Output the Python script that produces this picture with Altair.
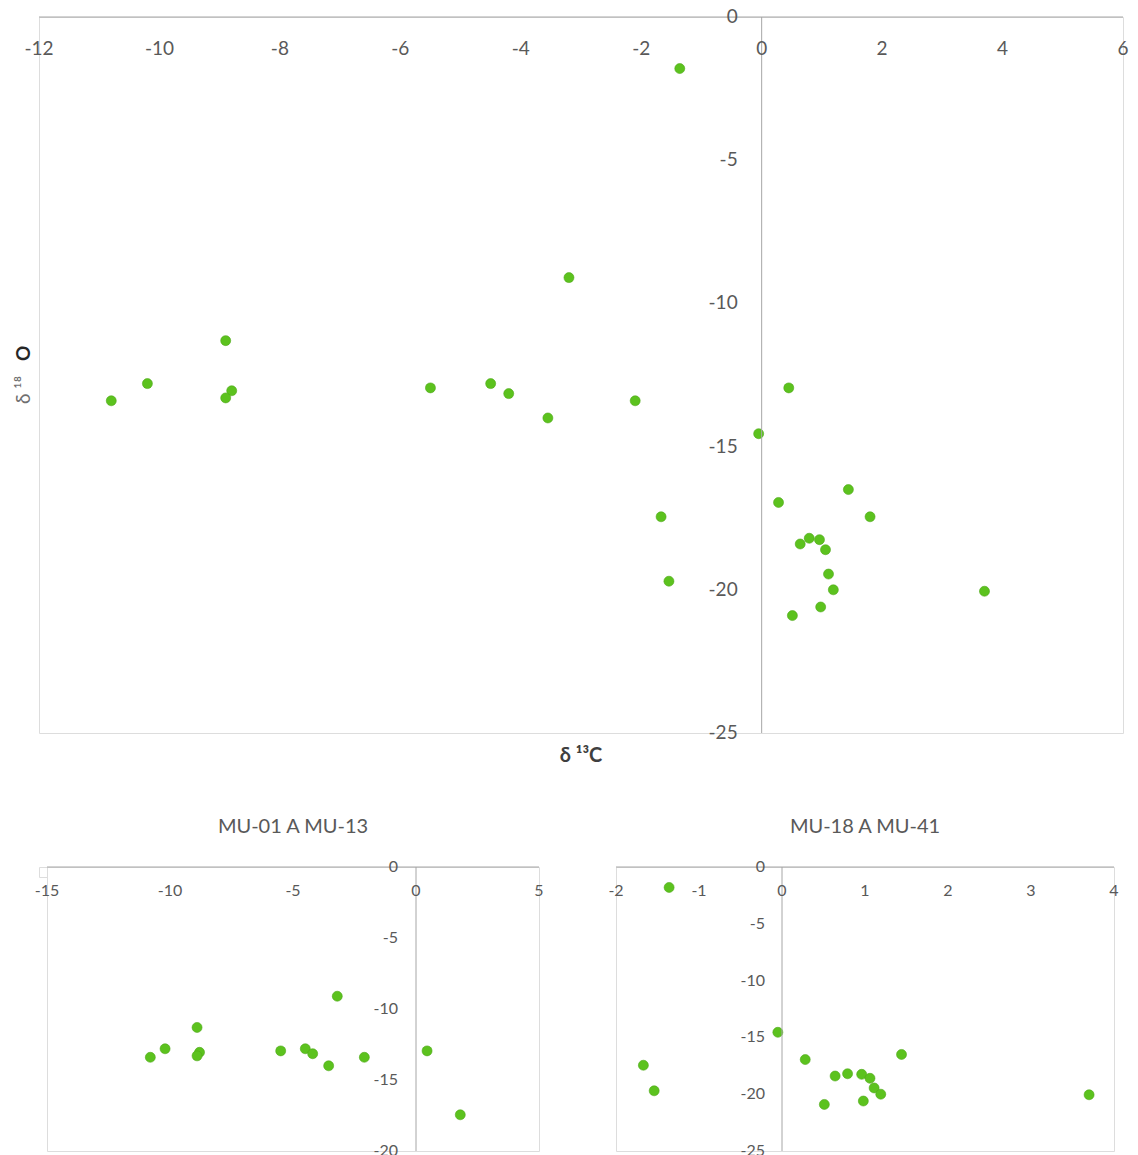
import altair as alt
import pandas as pd

# ---------------- data ----------------
G1_TITLE = "MU-01  A MU-13"
G1_C = [-10.8, -10.2, -8.9, -8.8, -8.9, -5.5, -4.5, -4.2, -3.55, -3.2, -2.1, 0.45, 1.8]
G1_O = [-13.4, -12.8, -11.3, -13.05, -13.3, -12.95, -12.8, -13.15, -14.0, -9.1, -13.4, -12.95, -17.45]

G2_TITLE = "MU-18  A MU-41"
G2_C = [-1.36, -0.05, -1.67, -1.54, 0.28, 1.44, 0.64, 0.79, 0.96, 1.06, 1.11, 1.19, 0.98, 0.51, 3.70]
G2_O = [-1.8, -14.55, -17.45, -19.7, -16.95, -16.5, -18.4, -18.2, -18.25, -18.6, -19.45, -20.0, -20.6, -20.9, -20.05]

MAIN_X_TICKS = [-12, -10, -8, -6, -4, -2, 0, 2, 4, 6]
MAIN_Y_TICKS = [0, -5, -10, -15, -20, -25]
L_X_TICKS = [-15, -10, -5, 0, 5]
L_Y_TICKS = [0, -5, -10, -15, -20]
R_X_TICKS = [-2, -1, 0, 1, 2, 3, 4]
R_Y_TICKS = [0, -5, -10, -15, -20, -25]

X_TITLE = "δ ¹³C"
Y_TITLE_A = "δ ¹⁸"
Y_TITLE_B = "O"

# ---------------- style ----------------
FONT = "Lato"
GREEN = "#5CC21E"
LABEL = "#595959"
GRID = "#D9D9D9"
AXIS = "#A6A6A6"


def grid_axis(values):
    return alt.Axis(values=values, labels=False, ticks=False, domain=False, grid=True,
                    gridColor=GRID, gridWidth=1, title=None)


def panel(c, o, xt, yt, w, h, fs, dx_y, dy_x, title=None, titles=False):
    xdom = [min(xt), max(xt)]
    ydom = [min(yt), max(yt)]
    xs = alt.Scale(domain=xdom, nice=False, zero=False)
    ys = alt.Scale(domain=ydom, nice=False, zero=False)

    pts_df = pd.DataFrame({"c": c, "o": o})
    points = alt.Chart(pts_df).mark_circle(size=100, color=GREEN, opacity=1,
                                           stroke="#4FA81A", strokeWidth=0.6).encode(
        x=alt.X("c:Q", scale=xs, axis=grid_axis(xt)),
        y=alt.Y("o:Q", scale=ys, axis=grid_axis(yt)),
    )

    xl_df = pd.DataFrame({"v": xt, "zero": [0] * len(xt), "t": [str(v) for v in xt]})
    xlabels = alt.Chart(xl_df).mark_text(font=FONT, fontSize=fs, color=LABEL,
                                         align="center", baseline="middle", dy=dy_x).encode(
        x=alt.X("v:Q", scale=xs, axis=None),
        y=alt.Y("zero:Q", scale=ys, axis=None),
        text="t:N",
    )

    yl_df = pd.DataFrame({"v": yt, "zero": [0] * len(yt), "t": [str(v) for v in yt]})
    ylabels = alt.Chart(yl_df).mark_text(font=FONT, fontSize=fs, color=LABEL,
                                         align="right", baseline="middle", dx=dx_y).encode(
        x=alt.X("zero:Q", scale=xs, axis=None),
        y=alt.Y("v:Q", scale=ys, axis=None),
        text="t:N",
    )

    vline_df = pd.DataFrame({"x": [0], "y1": [ydom[1]], "y2": [ydom[0]]})
    vline = alt.Chart(vline_df).mark_rule(color=AXIS, strokeWidth=1).encode(
        x=alt.X("x:Q", scale=xs, axis=None),
        y=alt.Y("y1:Q", scale=ys, axis=None),
        y2="y2:Q",
    )
    hline_df = pd.DataFrame({"y": [0], "x1": [xdom[0]], "x2": [xdom[1]]})
    hline = alt.Chart(hline_df).mark_rule(color=AXIS, strokeWidth=1).encode(
        y=alt.Y("y:Q", scale=ys, axis=None),
        x=alt.X("x1:Q", scale=xs, axis=None),
        x2="x2:Q",
    )

    layers = [points, vline, hline, xlabels, ylabels]

    if titles:
        xmid = (xdom[0] + xdom[1]) / 2
        ymid = (ydom[0] + ydom[1]) / 2
        xt_df = pd.DataFrame({"x": [xmid], "y": [ydom[0]], "t": [X_TITLE]})
        layers.append(alt.Chart(xt_df).mark_text(font=FONT, fontSize=20, fontWeight="bold",
                                                 color="#3F3F3F", align="center",
                                                 baseline="middle", dy=23).encode(
            x=alt.X("x:Q", scale=xs, axis=None),
            y=alt.Y("y:Q", scale=ys, axis=None),
            text="t:N"))
        ya_df = pd.DataFrame({"x": [xdom[0]], "y": [ymid], "t": [Y_TITLE_A]})
        layers.append(alt.Chart(ya_df).mark_text(font=FONT, fontSize=19, fontWeight="normal",
                                                 color="#6F6F6F", align="right", angle=270,
                                                 baseline="middle", dx=-1, dy=-15).encode(
            x=alt.X("x:Q", scale=xs, axis=None),
            y=alt.Y("y:Q", scale=ys, axis=None),
            text="t:N"))
        yb_df = pd.DataFrame({"x": [xdom[0]], "y": [ymid], "t": [Y_TITLE_B]})
        layers.append(alt.Chart(yb_df).mark_text(font=FONT, fontSize=19, fontWeight="bold",
                                                 color="#262626", align="left", angle=270,
                                                 baseline="middle", dx=14, dy=-15).encode(
            x=alt.X("x:Q", scale=xs, axis=None),
            y=alt.Y("y:Q", scale=ys, axis=None),
            text="t:N"))

    ch = alt.layer(*layers).properties(width=w, height=h)
    if title:
        ch = ch.properties(title=alt.TitleParams(title, font=FONT, fontSize=20, color=LABEL,
                                                 fontWeight="normal", frame="group",
                                                 offset=22, anchor="middle"))
    return ch


main = panel(G1_C + G2_C, G1_O + G2_O, MAIN_X_TICKS, MAIN_Y_TICKS, 1084, 716, 19,
             -24, 32, titles=True)
left = panel(G1_C, G1_O, L_X_TICKS, L_Y_TICKS, 492, 284, 16, -18, 24, title=G1_TITLE)
right = panel(G2_C, G2_O, R_X_TICKS, R_Y_TICKS, 498, 284, 16, -17, 24, title=G2_TITLE)

spacer = alt.Chart(pd.DataFrame({"a": [0]})).mark_point(opacity=0).encode(
    x=alt.value(0), y=alt.value(0)).properties(width=8, height=10)

bottom = alt.hconcat(spacer, alt.hconcat(left, right, spacing=77, bounds="flush"),
                     spacing=0, bounds="flush")

chart = alt.vconcat(main, bottom, spacing=134, bounds="flush").properties(
    padding={"left": 6, "top": -1, "right": 0, "bottom": 0}
).configure_view(stroke=None).configure(font=FONT)

chart.save("out.html", embed_options={"renderer": "svg", "actions": False})
